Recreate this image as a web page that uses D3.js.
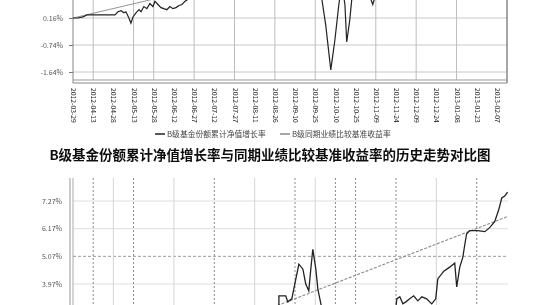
<!DOCTYPE html>
<html>
<head>
<meta charset="utf-8">
<script src="https://cdn.jsdelivr.net/npm/d3@7"></script>
<style>
  body { margin: 0; background: #ffffff; }
  #container { width: 535px; height: 305px; overflow: hidden; }
  text { font-family: "Noto Sans CJK SC", "DejaVu Sans", sans-serif; }
</style>
</head>
<body>
<div id="container"></div>
<script>
let w = 535;
let h = 305;

// x axis dates (same index axis for both charts)
let xLabels = ["2012-03-29","2012-04-13","2012-04-28","2012-05-13","2012-05-28","2012-06-12",
               "2012-06-27","2012-07-12","2012-07-27","2012-08-11","2012-08-26","2012-09-10",
               "2012-09-25","2012-10-10","2012-10-25","2012-11-09","2012-11-24","2012-12-09",
               "2012-12-24","2013-01-08","2013-01-23","2013-02-07"];

// top chart (cropped at top)
let topTicks = [0.16, -0.74, -1.64];
let topGridIdx = [1, 3, 4, 6, 8, 10, 12, 15, 17, 19];
let topFund = [[0,0.16],[0.25,0.16],[0.5,0.195],[0.69,0.264],[2.08,0.264],[2.23,0.368],[2.38,0.402],
               [2.52,0.333],[2.62,0.368],[2.77,0.16],[2.87,-0.013],[2.97,0.195],[3.12,0.333],[3.27,0.437],
               [3.37,0.368],[3.51,0.541],[3.66,0.471],[3.81,0.644],[3.96,0.541],[4.06,0.714],[4.21,0.61],
               [4.36,0.506],[4.5,0.471],[4.65,0.437],[4.8,0.541],[4.95,0.471],[5.1,0.506],[5.25,0.575],
               [5.4,0.61],[5.54,0.714],[5.69,0.783],[5.89,1.13],[6.29,1.3],[8.27,1.6],[10.25,1.5],
               [12.13,1.2],[12.33,0.78],[12.52,-0.08],[12.77,-1.57],[12.97,-0.6],[13.17,0.61],[13.32,1.3],
               [13.47,0.61],[13.56,-0.64],[13.71,0.09],[13.86,1.13],[14.46,1.47],[14.7,0.88],[14.85,0.61],
               [15.0,0.96],[15.69,1.65],[18.66,1.82],[21.49,1.82]];
let topBench = [[0,0.16],[21.5,3.56]];

// bottom chart (cropped at bottom)
let bottomTicks = [7.27, 6.17, 5.07, 3.97];
let bottomSolidIdx = [2, 5, 9, 12, 18];
let bottomDashIdx = [1, 3, 7, 11, 13, 14, 16, 20];
let bottomFund = [[10.2,2.99],[10.2,3.5],[10.54,3.5],[10.64,3.26],[10.84,3.38],[11.04,4.17],[11.19,4.76],
                  [11.39,4.56],[11.53,3.97],[11.68,3.7],[11.78,4.56],[11.88,5.35],[12.03,4.56],[12.13,3.77],
                  [12.28,3.18],[12.43,2.6],[13.22,2.2],[14.21,2.4],[15.2,2.2],[15.94,2.6],[16.04,3.38],
                  [16.19,3.46],[16.34,3.18],[16.49,3.26],[16.68,3.38],[16.88,3.5],[17.08,3.3],[17.28,3.46],
                  [17.52,3.38],[17.77,3.18],[17.97,3.38],[18.07,4.17],[18.37,4.48],[18.66,4.64],[18.91,4.8],
                  [19.01,3.85],[19.16,4.64],[19.31,5.03],[19.41,5.54],[19.5,5.97],[19.65,6.09],[20.05,6.09],
                  [20.4,6.05],[20.64,6.21],[20.89,6.45],[21.09,6.92],[21.24,7.39],[21.39,7.47],[21.53,7.62]];
let bottomBench = [[9.5,2.92],[21.49,6.64]];

let legendNames = ["B级基金份额累计净值增长率", "B级同期业绩比较基准收益率"];
let titleText = "B级基金份额累计净值增长率与同期业绩比较基准收益率的历史走势对比图";

let viz = d3.select('#container')
              .append("svg")
                .attr("width", w)
                .attr("height", h)
                .style("background-color", "#ffffff")
;

// soft scan look
viz.append("defs").append("filter")
      .attr("id", "soft")
    .append("feGaussianBlur")
      .attr("stdDeviation", 0.35)
;

let root = viz.append("g").attr("filter", "url(#soft)");

let x = d3.scaleLinear().domain([0, 21.5]).range([73, 507]);
let yTop = d3.scaleLinear().domain([-1.64, 0.16]).range([72, 18]);
let yBot = d3.scaleLinear().domain([3.97, 7.27]).range([284, 201]);

let lineTop = d3.line().x(d => x(d[0])).y(d => yTop(d[1]));
let lineBot = d3.line().x(d => x(d[0])).y(d => yBot(d[1]));

//==== top chart
let topChart = root.append("g");

viz.select("defs").append("clipPath").attr("id", "clipTop")
    .append("rect").attr("x", 73).attr("y", -60).attr("width", 434).attr("height", 140);

//---horizontal grid
topChart.selectAll(".hgrid").data(topTicks).enter()
    .append("line")
      .attr("x1", 73).attr("x2", 507)
      .attr("y1", d => yTop(d)).attr("y2", d => yTop(d))
      .attr("stroke", "#c8c8c8")
      .attr("stroke-width", 1)
;
//---vertical grid
topChart.selectAll(".vgrid").data(topGridIdx).enter()
    .append("line")
      .attr("x1", d => x(d)).attr("x2", d => x(d))
      .attr("y1", 0).attr("y2", 80)
      .attr("stroke", "#bdbdbd")
      .attr("stroke-width", 1)
;
//---frame
topChart.append("line").attr("x1", 73).attr("x2", 73).attr("y1", 0).attr("y2", 83)
    .attr("stroke", "#999").attr("stroke-width", 1.2);
topChart.append("line").attr("x1", 507).attr("x2", 507).attr("y1", 0).attr("y2", 83)
    .attr("stroke", "#888").attr("stroke-width", 1.5);
topChart.append("line").attr("x1", 73).attr("x2", 507).attr("y1", 80).attr("y2", 80)
    .attr("stroke", "#999").attr("stroke-width", 1);
topChart.append("line").attr("x1", 73).attr("x2", 507).attr("y1", 83).attr("y2", 83)
    .attr("stroke", "#888").attr("stroke-width", 1);

//---y axis
let topAxis = topChart.append("g")
    .attr("transform", "translate(73,0)")
    .call(d3.axisLeft(yTop).tickValues(topTicks).tickSize(4).tickFormat(d => d.toFixed(2) + "%"));
topAxis.select(".domain").remove();
topAxis.selectAll("line").attr("stroke", "#777");
topAxis.selectAll("text").attr("fill", "#555").style("font-size", "7px").attr("x", -10);

//---x axis labels
let xAxis = topChart.append("g")
    .attr("transform", "translate(0,86)")
    .call(d3.axisBottom(x).tickValues(d3.range(xLabels.length)).tickSize(0).tickFormat(i => xLabels[i]));
xAxis.select(".domain").remove();
xAxis.selectAll("text")
    .attr("fill", "#222")
    .style("font-size", "6.8px")
    .attr("text-anchor", "start")
    .attr("transform", "rotate(90)")
    .attr("x", 2)
    .attr("y", 0)
    .attr("dy", "0.35em")
;

//---lines
topChart.append("path")
    .attr("d", lineTop(topBench))
    .attr("clip-path", "url(#clipTop)")
    .attr("fill", "none")
    .attr("stroke", "#888")
    .attr("stroke-width", 0.9)
;
topChart.append("path")
    .attr("d", lineTop(topFund))
    .attr("clip-path", "url(#clipTop)")
    .attr("fill", "none")
    .attr("stroke", "#222")
    .attr("stroke-width", 1.2)
;

//---legend
let legend = topChart.selectAll(".legend").data(legendNames).enter()
    .append("g")
      .attr("transform", (d, i) => "translate(" + (155 + i * 125) + ",134)")
;
legend.append("line")
    .attr("x1", 0).attr("x2", 10).attr("y1", 0).attr("y2", 0)
    .attr("stroke", (d, i) => i == 0 ? "#222" : "#888")
    .attr("stroke-width", 1.5)
;
legend.append("text")
    .text(d => d)
    .attr("x", 12)
    .attr("y", 2.5)
    .attr("fill", "#444")
    .style("font-size", "7.8px")
;

//==== title
root.append("text")
    .text(titleText)
    .attr("x", 270)
    .attr("y", 160)
    .attr("text-anchor", "middle")
    .attr("fill", "#111")
    .style("font-size", "13.5px")
    .style("font-weight", "bold")
;

//==== bottom chart
let botChart = root.append("g");

//---horizontal grid
botChart.selectAll(".hgrid").data(bottomTicks).enter()
    .append("line")
      .attr("x1", 73).attr("x2", 508)
      .attr("y1", d => yBot(d)).attr("y2", d => yBot(d))
      .attr("stroke", d => d == 5.07 ? "#999" : "#dedede")
      .attr("stroke-dasharray", d => d == 5.07 ? "3,2" : null)
      .attr("stroke-width", 1)
;
//---vertical grid
botChart.selectAll(".vsolid").data(bottomSolidIdx).enter()
    .append("line")
      .attr("x1", d => x(d)).attr("x2", d => x(d))
      .attr("y1", 178).attr("y2", 305)
      .attr("stroke", "#d4d4d4")
      .attr("stroke-width", 1)
;
botChart.selectAll(".vdash").data(bottomDashIdx).enter()
    .append("line")
      .attr("x1", d => x(d)).attr("x2", d => x(d))
      .attr("y1", 178).attr("y2", 305)
      .attr("stroke", "#8a8a8a")
      .attr("stroke-dasharray", "2,2")
      .attr("stroke-width", 1)
;
//---left axis (double)
botChart.append("line").attr("x1", 70).attr("x2", 70).attr("y1", 178).attr("y2", 305)
    .attr("stroke", "#999").attr("stroke-width", 1);
botChart.append("line").attr("x1", 73).attr("x2", 73).attr("y1", 178).attr("y2", 305)
    .attr("stroke", "#aaa").attr("stroke-width", 1);

//---y axis
let botAxis = botChart.append("g")
    .attr("transform", "translate(70,0)")
    .call(d3.axisLeft(yBot).tickValues(bottomTicks).tickSize(0).tickFormat(d => d.toFixed(2) + "%"));
botAxis.select(".domain").remove();
botAxis.selectAll("text").attr("fill", "#555").style("font-size", "7px").attr("x", -8);

//---lines
botChart.append("path")
    .attr("d", lineBot(bottomBench))
    .attr("fill", "none")
    .attr("stroke", "#8a8a8a")
    .attr("stroke-dasharray", "3,1.5")
    .attr("stroke-width", 1.1)
;
botChart.append("path")
    .attr("d", lineBot(bottomFund))
    .attr("fill", "none")
    .attr("stroke", "#222")
    .attr("stroke-width", 1.3)
;
</script>
</body>
</html>
